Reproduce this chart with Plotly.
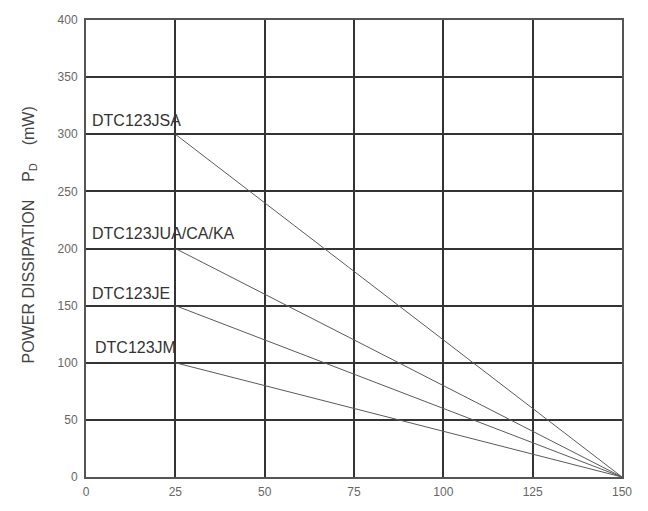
import plotly.graph_objects as go

# Data
series_names = ["DTC123JSA", "DTC123JUA/CA/KA", "DTC123JE", "DTC123JM"]
max_power = [300, 200, 150, 100]
derate_x = [25, 150]
label_y = [312, 213, 161, 113]
label_x = [1, 1, 1, 2]
x_ticks = [0, 25, 50, 75, 100, 125, 150]
y_ticks = [0, 50, 100, 150, 200, 250, 300, 350, 400]

fig = go.Figure()
for name, p in zip(series_names, max_power):
    fig.add_trace(go.Scatter(
        x=derate_x, y=[p, 0], mode="lines", name=name,
        line=dict(color="#5a5a5a", width=1), showlegend=False, hoverinfo="skip"))

for name, lx, ly in zip(series_names, label_x, label_y):
    fig.add_annotation(x=lx, y=ly, xref="x", yref="y", text=name, showarrow=False,
                       xanchor="left", yanchor="middle",
                       font=dict(family="Liberation Sans, Arial", size=16, color="#333333"))

fig.add_annotation(
    x=-0.105, y=0.53, xref="paper", yref="paper",
    text="POWER DISSIPATION&nbsp;&nbsp;&nbsp;&nbsp;P<sub>D</sub>&nbsp;&nbsp;&nbsp;&nbsp;(mW)",
    textangle=-90, showarrow=False, xanchor="center", yanchor="middle",
    font=dict(family="Liberation Sans, Arial", size=16, color="#444444"))

axis_common = dict(
    showgrid=True, gridcolor="#333333", gridwidth=2,
    showline=True, linecolor="#555555", linewidth=2, mirror=True,
    zeroline=False, ticks="",
    tickfont=dict(family="Liberation Sans, Arial", size=12, color="#666666"),
)
fig.update_xaxes(range=[0, 150], tickvals=x_ticks, ticktext=[str(v) for v in x_ticks],
                 ticklabelstandoff=3, **axis_common)
fig.update_yaxes(range=[0, 400], tickvals=y_ticks, ticktext=[str(v) for v in y_ticks],
                 ticklabelstandoff=4, **axis_common)

fig.update_layout(
    width=648, height=511,
    margin=dict(l=86, r=26, t=20, b=27),
    plot_bgcolor="white", paper_bgcolor="white",
)
fig.write_html("out.html", config={"displayModeBar": False},
               post_script="document.body.style.margin='0';document.body.style.overflow='hidden';")
